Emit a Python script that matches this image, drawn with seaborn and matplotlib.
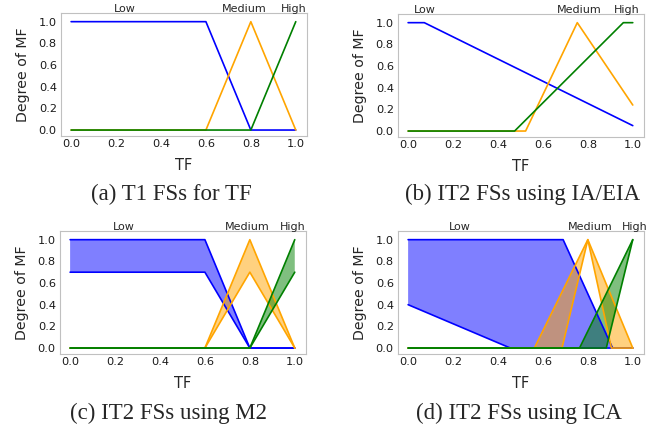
import numpy as np
import matplotlib
matplotlib.use('Agg')
import matplotlib.pyplot as plt
import seaborn as sns

# membership function breakpoints
# (a) type-1 sets
t1_low_x = [0.0, 0.6, 0.8, 1.0]
t1_low_y = [1.0, 1.0, 0.0, 0.0]
t1_med_x = [0.0, 0.6, 0.8, 1.0]
t1_med_y = [0.0, 0.0, 1.0, 0.0]
t1_high_x = [0.0, 0.8, 1.0]
t1_high_y = [0.0, 0.0, 1.0]

# (b) IA/EIA
ia_low_x = [0.0, 0.072, 1.0]
ia_low_y = [1.0, 1.0, 0.05]
ia_med_x = [0.0, 0.523, 0.753, 1.0]
ia_med_y = [0.0, 0.0, 1.0, 0.24]
ia_high_x = [0.0, 0.474, 0.958, 1.0]
ia_high_y = [0.0, 0.0, 1.0, 1.0]

# (c) M2: upper / lower MFs
m2_low_ux = [0.0, 0.6, 0.8, 1.0]
m2_low_uy = [1.0, 1.0, 0.0, 0.0]
m2_low_lx = [0.0, 0.6, 0.8, 1.0]
m2_low_ly = [0.7, 0.7, 0.0, 0.0]
m2_med_ux = [0.0, 0.6, 0.8, 1.0]
m2_med_uy = [0.0, 0.0, 1.0, 0.0]
m2_med_lx = [0.0, 0.6, 0.8, 1.0]
m2_med_ly = [0.0, 0.0, 0.7, 0.0]
m2_high_ux = [0.0, 0.8, 1.0]
m2_high_uy = [0.0, 0.0, 1.0]
m2_high_lx = [0.0, 0.8, 1.0]
m2_high_ly = [0.0, 0.0, 0.7]

# (d) ICA: upper / lower MFs
ica_low_ux = [0.0, 0.69, 0.91, 1.0]
ica_low_uy = [1.0, 1.0, 0.0, 0.0]
ica_low_lx = [0.0, 0.455, 1.0]
ica_low_ly = [0.4, 0.0, 0.0]
ica_med_ux = [0.0, 0.562, 0.8, 1.0]
ica_med_uy = [0.0, 0.0, 1.0, 0.0]
ica_med_lx = [0.0, 0.685, 0.8, 0.905, 1.0]
ica_med_ly = [0.0, 0.0, 1.0, 0.0, 0.0]
ica_high_ux = [0.0, 0.763, 1.0]
ica_high_uy = [0.0, 0.0, 1.0]
ica_high_lx = [0.0, 0.882, 1.0]
ica_high_ly = [0.0, 0.0, 1.0]

set_names = ['Low', 'Medium', 'High']
name_pos = {
    'a': [0.24, 0.77, 0.99],
    'b': [0.076, 0.76, 0.975],
    'c': [0.24, 0.79, 0.99],
    'd': [0.23, 0.81, 1.01],
}
captions = {
    'a': '(a) T1 FSs for TF',
    'b': '(b) IT2 FSs using IA/EIA',
    'c': '(c) IT2 FSs using M2',
    'd': '(d) IT2 FSs using ICA',
}
ticks = [0.0, 0.2, 0.4, 0.6, 0.8, 1.0]
tick_labels = ['0.0', '0.2', '0.4', '0.6', '0.8', '1.0']
colors = ['blue', 'orange', 'green']

sns.set_style('white')
plt.rcParams['font.family'] = ['DejaVu Sans']

W, H = 665, 436
fig = plt.figure(figsize=(W / 100, H / 100), dpi=100)


def make_axes(left, top, width=246, height=123):
    return fig.add_axes([left / W, 1 - (top + height) / H, width / W, height / H])


axes = {
    'a': make_axes(61, 13),
    'b': make_axes(398, 14),
    'c': make_axes(60, 231),
    'd': make_axes(398, 231),
}


def draw_t1(ax, curves):
    for (x, y), c in zip(curves, colors):
        sns.lineplot(x=x, y=y, ax=ax, color=c, lw=1.2, sort=False)


def draw_it2(ax, curves):
    for (ux, uy, lx, ly), c in zip(curves, colors):
        px = np.r_[ux, lx[::-1]]
        py = np.r_[uy, ly[::-1]]
        ax.fill(px, py, color=c, alpha=0.5, lw=0)
        sns.lineplot(x=ux, y=uy, ax=ax, color=c, lw=1.2, sort=False)
        sns.lineplot(x=lx, y=ly, ax=ax, color=c, lw=1.2, sort=False)


draw_t1(axes['a'], [(t1_low_x, t1_low_y), (t1_med_x, t1_med_y),
                    (t1_high_x, t1_high_y)])
draw_t1(axes['b'], [(ia_low_x, ia_low_y), (ia_med_x, ia_med_y),
                    (ia_high_x, ia_high_y)])
draw_it2(axes['c'], [(m2_low_ux, m2_low_uy, m2_low_lx, m2_low_ly),
                     (m2_med_ux, m2_med_uy, m2_med_lx, m2_med_ly),
                     (m2_high_ux, m2_high_uy, m2_high_lx, m2_high_ly)])
draw_it2(axes['d'], [(ica_low_ux, ica_low_uy, ica_low_lx, ica_low_ly),
                     (ica_med_ux, ica_med_uy, ica_med_lx, ica_med_ly),
                     (ica_high_ux, ica_high_uy, ica_high_lx, ica_high_ly)])

for key, ax in axes.items():
    ax.set_xlim(-0.045, 1.05)
    ax.set_ylim(-0.055, 1.08)
    ax.set_xticks(ticks)
    ax.set_xticklabels(tick_labels)
    ax.set_yticks(ticks)
    ax.set_yticklabels(tick_labels)
    ax.tick_params(axis='both', length=0, labelsize=8.2, colors='#1a1a1a')
    ax.tick_params(axis='x', pad=2.5)
    ax.tick_params(axis='y', pad=3)
    ax.set_xlabel('TF', fontsize=10.5, labelpad=6)
    ax.set_ylabel('Degree of MF', fontsize=10.2, labelpad=6.5)
    for sp in ax.spines.values():
        sp.set_color('#c0c0c0')
        sp.set_linewidth(0.8)
    for name, xpos in zip(set_names, name_pos[key]):
        ax.text(xpos, 1.01, name, transform=ax.get_xaxis_transform(),
                ha='center', va='baseline', fontsize=8)

cap_pos = {'a': (171, 200), 'b': (523, 200), 'c': (168, 419), 'd': (519, 419)}
for key, (cx, cy) in cap_pos.items():
    fig.text(cx / W, 1 - cy / H, captions[key], ha='center', va='baseline',
             fontsize=16.5, family=['Liberation Serif', 'DejaVu Serif'])

fig.savefig('out.png', dpi=100)
